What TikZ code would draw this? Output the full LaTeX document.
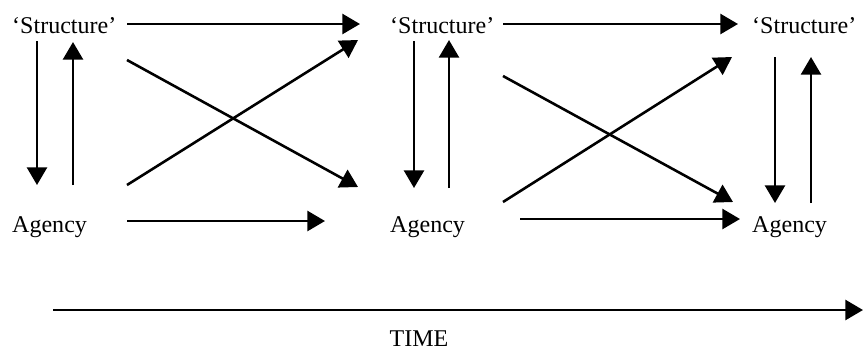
\documentclass[tikz,border=0pt]{standalone}
\usepackage{fontspec}
\setmainfont{Liberation Serif}
\usetikzlibrary{arrows.meta}

\begin{document}
\begin{tikzpicture}[x=.03cm,y=-.03cm,>={Triangle[length=15pt,width=17pt]},
    arr/.style={->,line width=2.2pt},
    lbl/.style={anchor=base west,inner sep=0pt,font=\fontsize{20.5}{24}\selectfont}]
  \useasboundingbox (0,0) rectangle (867,350);
  \node[lbl] (s1) at (12,33) {‘Structure’};
  \node[lbl] (s2) at (390,33) {‘Structure’};
  \node[lbl] (s3) at (752,33) {‘Structure’};
  \node[lbl] (a1) at (12,232) {Agency};
  \node[lbl] (a2) at (390,232) {Agency};
  \node[lbl] (a3) at (752,232) {Agency};
  \node[lbl,anchor=base] (time) at (419,346) {TIME};
  \foreach \s/\a/\l/\r/\t/\b/\u in {s1/a1/25/61/8/-47/9, s2/a2/24/59/8/-44/7, s3/a3/23/59/24/-29/24}{
    \draw[arr] ([shift={(\l,\t)}]\s.base west) -- ([shift={(\l,\b)}]\a.base west);
    \draw[arr] ([shift={(\r,\b)}]\a.base west) -- ([shift={(\r,\u)}]\s.base west);
  }
  \draw[arr] ([shift={(115,-9)}]s1.base west) -- ([shift={(-30,-9)}]s2.base west);
  \draw[arr] ([shift={(115,27)}]s1.base west) -- ([shift={(-32,-45)}]a2.base west);
  \draw[arr] ([shift={(115,-47)}]a1.base west) -- ([shift={(-32,7)}]s2.base west);
  \draw[arr] ([shift={(115,-11)}]a1.base west) -- ([shift={(-65,-11)}]a2.base west);
  \draw[arr] ([shift={(113,-9)}]s2.base west) -- ([shift={(-14,-9)}]s3.base west);
  \draw[arr] ([shift={(113,43)}]s2.base west) -- ([shift={(-19,-30)}]a3.base west);
  \draw[arr] ([shift={(113,-30)}]a2.base west) -- ([shift={(-20,24)}]s3.base west);
  \draw[arr] ([shift={(130,-13)}]a2.base west) -- ([shift={(-12,-13)}]a3.base west);
  \draw[arr] ([shift={(-366,-36)}]time.base) -- ([shift={(444,-36)}]time.base);
\end{tikzpicture}
\end{document}
